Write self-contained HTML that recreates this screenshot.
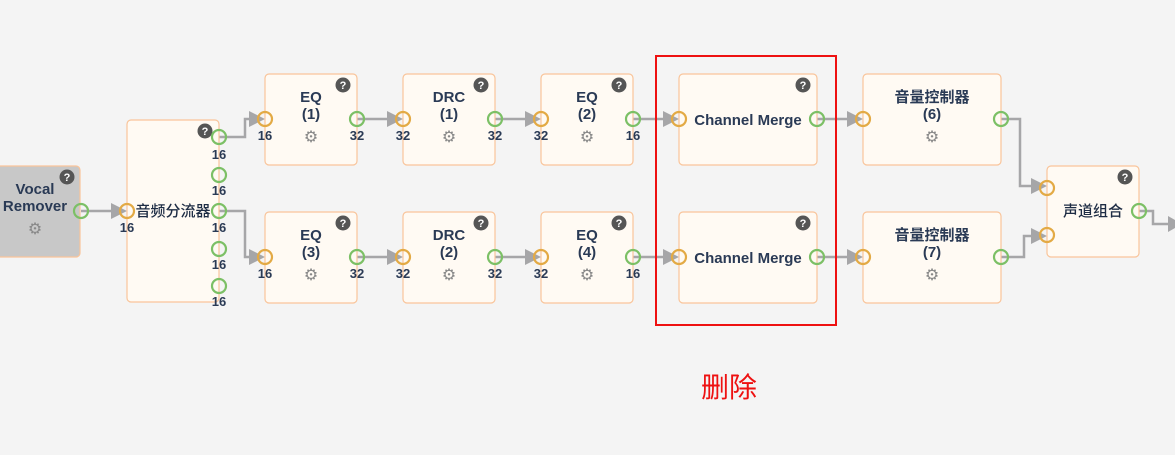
<!DOCTYPE html>
<html><head><meta charset="utf-8"><style>
html,body{margin:0;padding:0;background:#f4f4f4;}
svg{display:block;}
text{font-family:"Liberation Sans","Noto Sans CJK SC",sans-serif;}
.t{font-size:15px;font-weight:bold;fill:#2a3a55;text-anchor:middle;}
.n{font-size:13px;font-weight:bold;fill:#2a3a55;text-anchor:middle;}
.g{font-size:16px;fill:#888;text-anchor:middle;font-family:"DejaVu Sans",sans-serif;}
.box{fill:#fffaf3;stroke:#f9c49a;stroke-width:1.2;}
.in{fill:none;stroke:#e3aa45;stroke-width:2.2;}
.out{fill:none;stroke:#7cc066;stroke-width:2.2;}
.ln{fill:none;stroke:#a6a6a8;stroke-width:2.5;}
.ah{fill:#a6a6a8;}
.q{fill:#555;}
.qt{font-size:11px;font-weight:bold;fill:#fff;text-anchor:middle;}
.cj{font-size:15px;font-weight:500;fill:#1e2c44;text-anchor:middle;}
</style></head><body>
<svg width="1175" height="455" viewBox="0 0 1175 455" xmlns="http://www.w3.org/2000/svg">
<rect width="1175" height="455" fill="#f4f4f4"/>

<g>
<path class="ln" d="M81 211 H114"/><polygon class="ah" points="111,203 127,211 111,219"/>
<path class="ln" d="M219 137 H245 V119 H252"/><polygon class="ah" points="249,111 265,119 249,127"/>
<path class="ln" d="M219 211 H245 V257 H252"/><polygon class="ah" points="249,249 265,257 249,265"/>
<path class="ln" d="M357 119 H390"/><polygon class="ah" points="387,111 403,119 387,127"/>
<path class="ln" d="M495 119 H528"/><polygon class="ah" points="525,111 541,119 525,127"/>
<path class="ln" d="M633 119 H666"/><polygon class="ah" points="663,111 679,119 663,127"/>
<path class="ln" d="M817 119 H850"/><polygon class="ah" points="847,111 863,119 847,127"/>
<path class="ln" d="M357 257 H390"/><polygon class="ah" points="387,249 403,257 387,265"/>
<path class="ln" d="M495 257 H528"/><polygon class="ah" points="525,249 541,257 525,265"/>
<path class="ln" d="M633 257 H666"/><polygon class="ah" points="663,249 679,257 663,265"/>
<path class="ln" d="M817 257 H850"/><polygon class="ah" points="847,249 863,257 847,265"/>
<path class="ln" d="M1001 119 H1020 V186 H1034"/><polygon class="ah" points="1031,178 1047,186 1031,194"/>
<path class="ln" d="M1001 257 H1024 V236 H1034"/><polygon class="ah" points="1031,228 1047,236 1031,244"/>
<path class="ln" d="M1139 211 H1153 V224 H1175"/><polygon class="ah" points="1168,216 1182,224 1168,232"/>
</g>

<rect x="-10" y="166" width="90" height="91" rx="4" fill="#c8c8c8" stroke="#f9c49a" stroke-width="1.2"/>
<circle class="q" cx="67" cy="177" r="7.5"/><text class="qt" x="67" y="181">?</text>
<text class="t" x="35" y="194">Vocal</text><text class="t" x="35" y="211">Remover</text>
<text class="g" x="35" y="234">⚙</text>
<circle class="out" cx="81" cy="211" r="7"/>

<rect class="box" x="127" y="120" width="92" height="182" rx="4"/>
<circle class="q" cx="205" cy="131" r="7.5"/><text class="qt" x="205" y="135">?</text>
<text class="cj" x="173" y="216">音频分流器</text>
<circle class="in" cx="127" cy="211" r="7"/><text class="n" x="127" y="232">16</text>
<circle class="out" cx="219" cy="137" r="7"/><text class="n" x="219" y="159">16</text>
<circle class="out" cx="219" cy="175" r="7"/><text class="n" x="219" y="195">16</text>
<circle class="out" cx="219" cy="211" r="7"/><text class="n" x="219" y="232">16</text>
<circle class="out" cx="219" cy="249" r="7"/><text class="n" x="219" y="269">16</text>
<circle class="out" cx="219" cy="286" r="7"/><text class="n" x="219" y="306">16</text>

<g>
<rect class="box" x="265" y="74" width="92" height="91" rx="4"/>
<circle class="q" cx="343" cy="85" r="7.5"/><text class="qt" x="343" y="89">?</text>
<text class="t" x="311" y="102">EQ</text><text class="t" x="311" y="119">(1)</text><text class="g" x="311" y="142">⚙</text>
<circle class="in" cx="265" cy="119" r="7"/><text class="n" x="265" y="140">16</text>
<circle class="out" cx="357" cy="119" r="7"/><text class="n" x="357" y="140">32</text>
<rect class="box" x="403" y="74" width="92" height="91" rx="4"/>
<circle class="q" cx="481" cy="85" r="7.5"/><text class="qt" x="481" y="89">?</text>
<text class="t" x="449" y="102">DRC</text><text class="t" x="449" y="119">(1)</text><text class="g" x="449" y="142">⚙</text>
<circle class="in" cx="403" cy="119" r="7"/><text class="n" x="403" y="140">32</text>
<circle class="out" cx="495" cy="119" r="7"/><text class="n" x="495" y="140">32</text>
<rect class="box" x="541" y="74" width="92" height="91" rx="4"/>
<circle class="q" cx="619" cy="85" r="7.5"/><text class="qt" x="619" y="89">?</text>
<text class="t" x="587" y="102">EQ</text><text class="t" x="587" y="119">(2)</text><text class="g" x="587" y="142">⚙</text>
<circle class="in" cx="541" cy="119" r="7"/><text class="n" x="541" y="140">32</text>
<circle class="out" cx="633" cy="119" r="7"/><text class="n" x="633" y="140">16</text>
<rect class="box" x="679" y="74" width="138" height="91" rx="4"/>
<circle class="q" cx="803" cy="85" r="7.5"/><text class="qt" x="803" y="89">?</text>
<text class="t" x="748" y="125">Channel Merge</text>
<circle class="in" cx="679" cy="119" r="7"/>
<circle class="out" cx="817" cy="119" r="7"/>
<rect class="box" x="863" y="74" width="138" height="91" rx="4"/>
<text class="t" x="932" y="102">音量控制器</text><text class="t" x="932" y="119">(6)</text><text class="g" x="932" y="142">⚙</text>
<circle class="in" cx="863" cy="119" r="7"/>
<circle class="out" cx="1001" cy="119" r="7"/>
</g>
<g transform="translate(0,138)">
<rect class="box" x="265" y="74" width="92" height="91" rx="4"/>
<circle class="q" cx="343" cy="85" r="7.5"/><text class="qt" x="343" y="89">?</text>
<text class="t" x="311" y="102">EQ</text><text class="t" x="311" y="119">(3)</text><text class="g" x="311" y="142">⚙</text>
<circle class="in" cx="265" cy="119" r="7"/><text class="n" x="265" y="140">16</text>
<circle class="out" cx="357" cy="119" r="7"/><text class="n" x="357" y="140">32</text>
<rect class="box" x="403" y="74" width="92" height="91" rx="4"/>
<circle class="q" cx="481" cy="85" r="7.5"/><text class="qt" x="481" y="89">?</text>
<text class="t" x="449" y="102">DRC</text><text class="t" x="449" y="119">(2)</text><text class="g" x="449" y="142">⚙</text>
<circle class="in" cx="403" cy="119" r="7"/><text class="n" x="403" y="140">32</text>
<circle class="out" cx="495" cy="119" r="7"/><text class="n" x="495" y="140">32</text>
<rect class="box" x="541" y="74" width="92" height="91" rx="4"/>
<circle class="q" cx="619" cy="85" r="7.5"/><text class="qt" x="619" y="89">?</text>
<text class="t" x="587" y="102">EQ</text><text class="t" x="587" y="119">(4)</text><text class="g" x="587" y="142">⚙</text>
<circle class="in" cx="541" cy="119" r="7"/><text class="n" x="541" y="140">32</text>
<circle class="out" cx="633" cy="119" r="7"/><text class="n" x="633" y="140">16</text>
<rect class="box" x="679" y="74" width="138" height="91" rx="4"/>
<circle class="q" cx="803" cy="85" r="7.5"/><text class="qt" x="803" y="89">?</text>
<text class="t" x="748" y="125">Channel Merge</text>
<circle class="in" cx="679" cy="119" r="7"/>
<circle class="out" cx="817" cy="119" r="7"/>
<rect class="box" x="863" y="74" width="138" height="91" rx="4"/>
<text class="t" x="932" y="102">音量控制器</text><text class="t" x="932" y="119">(7)</text><text class="g" x="932" y="142">⚙</text>
<circle class="in" cx="863" cy="119" r="7"/>
<circle class="out" cx="1001" cy="119" r="7"/>
</g>

<rect class="box" x="1047" y="166" width="92" height="91" rx="4"/>
<circle class="q" cx="1125" cy="177" r="7.5"/><text class="qt" x="1125" y="181">?</text>
<text class="cj" x="1093" y="216">声道组合</text>
<circle class="in" cx="1047" cy="188" r="7"/>
<circle class="in" cx="1047" cy="235" r="7"/>
<circle class="out" cx="1139" cy="211" r="7"/>

<rect x="656" y="56" width="180" height="269" fill="none" stroke="#ee1111" stroke-width="2"/>
<text x="729" y="397" style="font-size:28px;fill:#ee1111;text-anchor:middle;">删除</text>
</svg>
</body></html>
